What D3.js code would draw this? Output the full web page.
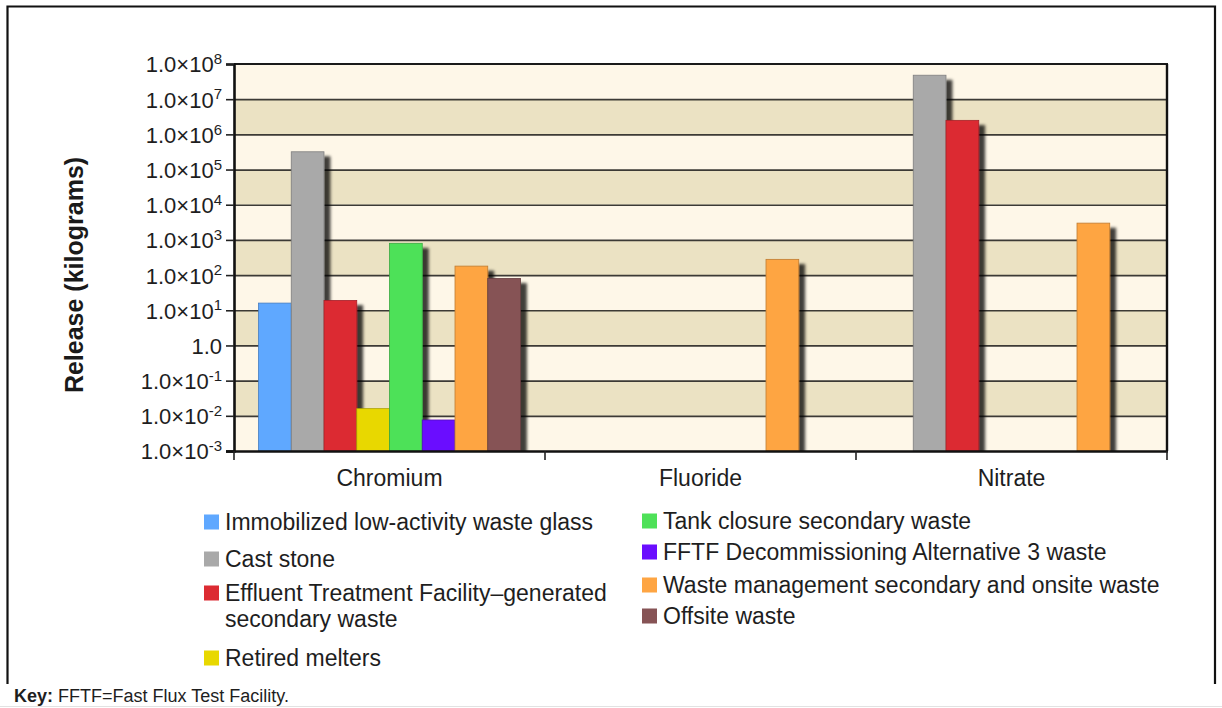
<!DOCTYPE html>
<html>
<head>
<meta charset="utf-8">
<script src="https://cdn.jsdelivr.net/npm/d3@7"></script>
<style>
  html, body { margin: 0; padding: 0; background: #fff; }
  svg { display: block; font-family: "Liberation Sans", Arial, sans-serif; }
</style>
</head>
<body>
<svg id="chart" width="1222" height="708"></svg>
<script>
// ---- data ----
const categories = ["Chromium", "Fluoride", "Nitrate"];
const seriesNames = [
  "Immobilized low-activity waste glass",
  "Cast stone",
  "Effluent Treatment Facility\u2013generated secondary waste",
  "Retired melters",
  "Tank closure secondary waste",
  "FFTF Decommissioning Alternative 3 waste",
  "Waste management secondary and onsite waste",
  "Offsite waste"
];
const ilawGlass      = [16, null, null];
const castStone      = [3.2e5, null, 4.8e7];
const etfSecondary   = [19, null, 2.5e6];
const retiredMelters = [0.016, null, null];
const tankClosure    = [800, null, null];
const fftfAlt3       = [0.0076, null, null];
const wasteMgmt      = [180, 280, 3000];
const offsiteWaste   = [80, null, null];
const seriesValues = [ilawGlass, castStone, etfSecondary, retiredMelters, tankClosure, fftfAlt3, wasteMgmt, offsiteWaste];
const seriesColors = ["#5fa8ff", "#a9a9a9", "#dc2b32", "#e8d800", "#4ee158", "#6a0dff", "#fea543", "#865355"];
const tickExponents = [8, 7, 6, 5, 4, 3, 2, 1, 0, -1, -2, -3];

// ---- layout ----
const svg = d3.select("#chart");
const plot = { left: 234, right: 1167, top: 64, bottom: 451 };

const y = d3.scaleLog().domain([1e-3, 1e8]).range([plot.bottom, plot.top]);
const x = d3.scaleBand().domain(categories).range([plot.left, plot.right]).paddingInner(0).paddingOuter(0);
const xs = d3.scaleBand().domain(d3.range(seriesNames.length))
  .range([24.5, x.bandwidth() - 24.5]).paddingInner(0);

const defs = svg.append("defs");
const f = defs.append("filter").attr("id", "shadow").attr("x", "-20%").attr("y", "-5%").attr("width", "160%").attr("height", "120%");
f.append("feDropShadow").attr("dx", 6).attr("dy", 5).attr("stdDeviation", 1.6)
  .attr("flood-color", "#000").attr("flood-opacity", 0.75);
defs.append("clipPath").attr("id", "plotclip").append("rect")
  .attr("x", plot.left).attr("y", plot.top - 20)
  .attr("width", plot.right - plot.left).attr("height", plot.bottom - plot.top + 20);

// outer frame
svg.append("path")
  .attr("d", "M7.5,684 V6.5 H1215 V684")
  .attr("fill", "none").attr("stroke", "#111").attr("stroke-width", 2.2);
svg.append("line").attr("x1", 0).attr("x2", 1222).attr("y1", 706.5).attr("y2", 706.5)
  .attr("stroke", "#e2e2e2").attr("stroke-width", 1);

// background bands
const decades = d3.range(-3, 8);
svg.append("g").selectAll("rect").data(decades).join("rect")
  .attr("x", plot.left).attr("width", plot.right - plot.left)
  .attr("y", d => y(Math.pow(10, d + 1)))
  .attr("height", d => y(Math.pow(10, d)) - y(Math.pow(10, d + 1)))
  .attr("fill", d => ((7 - d) % 2 === 0) ? "#fef7e8" : "#ebe2c3");

// gridlines
svg.append("g").selectAll("line").data(tickExponents.slice(1, -1)).join("line")
  .attr("x1", plot.left).attr("x2", plot.right)
  .attr("y1", d => y(Math.pow(10, d)) + 0.5).attr("y2", d => y(Math.pow(10, d)) + 0.5)
  .attr("stroke", "#3c3a35").attr("stroke-width", 1.7);

// bars
const barG = svg.append("g").attr("clip-path", "url(#plotclip)");
const barData = [];
categories.forEach((c, ci) => {
  seriesValues.forEach((vals, si) => {
    if (vals[ci] != null) barData.push({ c, si, v: vals[ci] });
  });
});
barG.selectAll("rect").data(barData).join("rect")
  .attr("x", d => x(d.c) + xs(d.si))
  .attr("width", xs.bandwidth())
  .attr("y", d => y(d.v))
  .attr("height", d => plot.bottom - y(d.v))
  .attr("fill", d => seriesColors[d.si])
  .attr("stroke", d => d3.color(seriesColors[d.si]).darker(0.8))
  .attr("stroke-width", 0.8)
  .attr("filter", "url(#shadow)");

// plot frame top/right
svg.append("line").attr("x1", plot.left).attr("x2", plot.right + 1).attr("y1", plot.top).attr("y2", plot.top)
  .attr("stroke", "#1a1a1a").attr("stroke-width", 2);
svg.append("line").attr("x1", plot.right).attr("x2", plot.right).attr("y1", plot.top).attr("y2", plot.bottom)
  .attr("stroke", "#111").attr("stroke-width", 2.4);

// y axis
const yAxis = d3.axisLeft(y)
  .tickValues(tickExponents.map(e => Math.pow(10, e)))
  .tickSize(8).tickPadding(4)
  .tickFormat(() => "");
const yg = svg.append("g").attr("transform", `translate(${plot.left},0)`).call(yAxis);
yg.select(".domain").attr("stroke", "#111").attr("stroke-width", 2.6);
yg.selectAll(".tick line").attr("stroke", "#222").attr("stroke-width", 1.6);
yg.selectAll(".tick text").each(function(d) {
  const e = Math.round(Math.log10(d));
  const t = d3.select(this)
    .attr("x", -12).attr("dy", "0.36em")
    .attr("font-size", 22).attr("fill", "#1e1e1e")
    .attr("font-family", "Liberation Sans, Arial, sans-serif")
    .attr("text-anchor", "end");
  if (e === 0) {
    t.text("1.0");
  } else {
    t.append("tspan").text("1.0\u00d710");
    t.append("tspan").attr("font-size", 15).attr("dy", "-0.55em").text(String(e));
  }
});

// x axis
const xAxis = d3.axisBottom(x).tickSize(0).tickPadding(19);
const xg = svg.append("g").attr("transform", `translate(0,${plot.bottom})`).call(xAxis);
xg.select(".domain").remove();
xg.selectAll(".tick text").attr("font-size", 23).attr("fill", "#1e1e1e")
  .attr("font-family", "Liberation Sans, Arial, sans-serif");
svg.append("line").attr("x1", plot.left - 8).attr("x2", plot.right + 1)
  .attr("y1", plot.bottom + 0.5).attr("y2", plot.bottom + 0.5)
  .attr("stroke", "#111").attr("stroke-width", 2.4);
const boundaries = categories.map(c => x(c)).concat([x(categories[categories.length - 1]) + x.bandwidth()]);
svg.append("g").selectAll("line").data(boundaries).join("line")
  .attr("x1", d => d).attr("x2", d => d)
  .attr("y1", plot.bottom).attr("y2", plot.bottom + 9)
  .attr("stroke", "#222").attr("stroke-width", 1.6);

// y title
svg.append("text")
  .attr("transform", "translate(83,275) rotate(-90)")
  .attr("text-anchor", "middle")
  .attr("font-size", 25).attr("font-weight", "bold").attr("fill", "#1a1a1a")
  .text("Release (kilograms)");

// legend
const legendItems = [
  { si: 0, x: 204, y: 522, lines: ["Immobilized low-activity waste glass"] },
  { si: 1, x: 204, y: 559, lines: ["Cast stone"] },
  { si: 2, x: 204, y: 593, lines: ["Effluent Treatment Facility\u2013generated", "secondary waste"] },
  { si: 3, x: 204, y: 658, lines: ["Retired melters"] },
  { si: 4, x: 642, y: 521, lines: ["Tank closure secondary waste"] },
  { si: 5, x: 642, y: 552, lines: ["FFTF Decommissioning Alternative 3 waste"] },
  { si: 6, x: 642, y: 585, lines: ["Waste management secondary and onsite waste"] },
  { si: 7, x: 642, y: 616, lines: ["Offsite waste"] }
];
const lg = svg.append("g").selectAll("g").data(legendItems).join("g");
lg.append("rect")
  .attr("x", d => d.x).attr("y", d => d.y - 7.5)
  .attr("width", 15).attr("height", 15)
  .attr("fill", d => seriesColors[d.si]);
lg.append("text")
  .attr("font-size", 23).attr("fill", "#1e1e1e")
  .each(function(d) {
    d3.select(this).selectAll("tspan").data(d.lines).join("tspan")
      .attr("x", d.x + 21)
      .attr("y", (l, i) => d.y + 8 + i * 26)
      .text(l => l);
  });

// key
const key = svg.append("text").attr("x", 14).attr("y", 702).attr("font-size", 18).attr("fill", "#1e1e1e");
key.append("tspan").attr("font-weight", "bold").text("Key:");
key.append("tspan").text(" FFTF=Fast Flux Test Facility.");
</script>
</body>
</html>
